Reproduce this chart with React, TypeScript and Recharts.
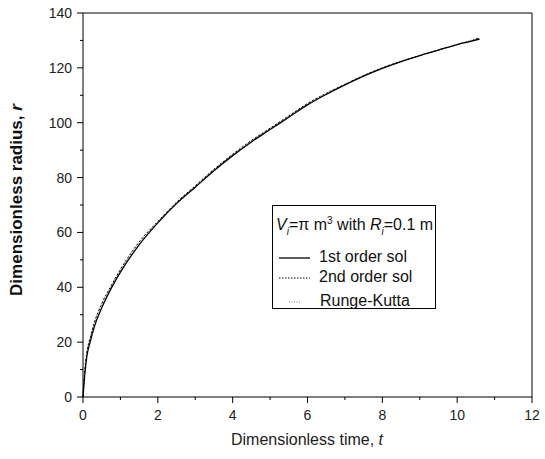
import { Legend, Line, LineChart, ReferenceLine, XAxis, YAxis } from 'recharts'

const times = [0, 0.02, 0.05, 0.1, 0.2, 0.3, 0.5, 0.75, 1, 1.5, 2, 2.5, 3, 3.5, 4, 4.5, 5, 5.5, 6, 6.5, 7, 7.5, 8, 8.5, 9, 9.5, 10, 10.3, 10.6]
const firstOrder = [0, 3.5, 8.5, 14.5, 20.5, 25.5, 32.5, 39.5, 45.5, 55.5, 63.5, 70.5, 76.5, 82.5, 88, 93, 97.5, 102, 106.5, 110.3, 113.8, 117, 119.8, 122.3, 124.5, 126.5, 128.5, 129.5, 130.5]
const secondOrder = [0, 4.5, 10, 16, 22, 27, 34, 40.5, 46.5, 56.5, 64, 71, 77, 83, 88.5, 93.5, 98, 102.5, 107, 110.7, 114, 117.2, 120, 122.4, 124.5, 126.5, 128.5, 129.5, 131]
const rungeKutta = [0, 4.5, 10, 16, 22, 27, 34, 40.5, 46.5, 56.5, 64, 71, 77, 83, 88.5, 93.5, 98, 102.5, 107, 110.7, 114, 117.2, 120, 122.4, 124.5, 126.5, 128.5, 129.8, 130.8]

const xTicks = [0, 1, 2, 3, 4, 5, 6, 7, 8, 9, 10, 11, 12]
const yTicks = [0, 10, 20, 30, 40, 50, 60, 70, 80, 90, 100, 110, 120, 130, 140]

const data = times.map((t, i) => ({
  t,
  first: firstOrder[i],
  second: secondOrder[i],
  rk: rungeKutta[i]
}))

const font = '"Liberation Sans", Arial, sans-serif'

const XTick = ({ x, y, payload }: any) => {
  const major = payload.value % 2 === 0
  return (
    <g>
      <line x1={x} x2={x} y1={y} y2={y + (major ? 6 : 3)} stroke="#000" />
      {major && (
        <text x={x} y={y + 23} textAnchor="middle" fontSize={14} fill="#222" fontFamily={font}>
          {payload.value}
        </text>
      )}
    </g>
  )
}

const YTick = ({ x, y, payload }: any) => {
  const major = payload.value % 20 === 0
  return (
    <g>
      <line x1={x - (major ? 6 : 3)} x2={x} y1={y} y2={y} stroke="#000" />
      {major && (
        <text x={x - 11} y={y + 5} textAnchor="end" fontSize={14} fill="#222" fontFamily={font}>
          {payload.value}
        </text>
      )}
    </g>
  )
}

const renderLegend = () => (
  <div
    style={{
      width: 164,
      height: 104,
      boxSizing: 'border-box',
      border: '1px solid #000',
      background: '#fff',
      fontFamily: font,
      fontSize: 16,
      color: '#111',
      position: 'relative'
    }}
  >
    <div style={{ position: 'absolute', left: 3, top: 9, whiteSpace: 'nowrap' }}>
      <i>V</i><sub style={{ fontSize: 10 }}><i>i</i></sub>=π m<sup style={{ fontSize: 10 }}>3</sup> with <i>R</i>
      <sub style={{ fontSize: 10 }}><i>i</i></sub>=0.1 m
    </div>
    <svg style={{ position: 'absolute', left: 0, top: 0 }} width={164} height={104}>
      <line x1={6} x2={37} y1={52} y2={52} stroke="#000" strokeWidth={1.3} />
      <line x1={6} x2={37} y1={72} y2={72} stroke="#000" strokeDasharray="1.5 1.5" />
      <line x1={16} x2={28} y1={96} y2={96} stroke="#777" strokeDasharray="1 1.5" />
    </svg>
    <div style={{ position: 'absolute', left: 46, top: 42 }}>1st order sol</div>
    <div style={{ position: 'absolute', left: 46, top: 62 }}>2nd order sol</div>
    <div style={{ position: 'absolute', left: 47, top: 86 }}>Runge-Kutta</div>
  </div>
)

export default function App() {
  return (
    <div style={{ position: 'absolute', left: 0, top: 0, width: 545, height: 459, background: '#fff' }}>
      <LineChart width={545} height={459} data={data} margin={{ top: 13, right: 13, left: 0, bottom: 0 }}>
        <XAxis
          dataKey="t"
          type="number"
          domain={[0, 12]}
          ticks={xTicks}
          interval={0}
          height={62}
          tickSize={0}
          tickMargin={0}
          tickLine={false}
          axisLine={{ stroke: '#000' }}
          tick={<XTick />}
          label={{
            content: () => (
              <text x={307} y={445} textAnchor="middle" fontSize={16} fill="#222" fontFamily={font}>
                Dimensionless time, <tspan fontStyle="italic">t</tspan>
              </text>
            )
          }}
        />
        <YAxis
          type="number"
          domain={[0, 140]}
          ticks={yTicks}
          interval={0}
          width={83}
          tickSize={0}
          tickMargin={0}
          tickLine={false}
          axisLine={{ stroke: '#000' }}
          tick={<YTick />}
          label={{
            content: () => (
              <text
                x={22}
                y={200}
                transform="rotate(-90 22 200)"
                textAnchor="middle"
                fontSize={17}
                fontWeight="bold"
                fill="#111"
                fontFamily={font}
              >
                Dimensionless radius, <tspan fontStyle="italic">r</tspan>
              </text>
            )
          }}
        />
        <ReferenceLine y={140} stroke="#000" />
        <ReferenceLine x={12} stroke="#000" />
        <Line type="monotone" dataKey="rk" stroke="#888" strokeWidth={1} strokeDasharray="1 1.5" dot={false} isAnimationActive={false} />
        <Line type="monotone" dataKey="second" stroke="#000" strokeWidth={1} strokeDasharray="2 2" dot={false} isAnimationActive={false} />
        <Line type="monotone" dataKey="first" stroke="#000" strokeWidth={1.3} dot={false} isAnimationActive={false} />
        <Legend
          layout="vertical"
          align="center"
          verticalAlign="middle"
          content={renderLegend}
          wrapperStyle={{ left: 272, top: 205, width: 164, height: 104 }}
        />
      </LineChart>
    </div>
  )
}
